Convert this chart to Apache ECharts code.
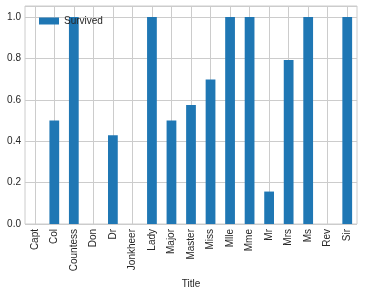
<!DOCTYPE html>
<html>
<head>
<meta charset="utf-8">
<script src="https://cdn.jsdelivr.net/npm/echarts@6/dist/echarts.min.js"></script>
<style>
  html, body { margin: 0; padding: 0; background: #fff; }
  #chart { width: 366px; height: 290px; }
</style>
</head>
<body>
<div id="chart"></div>
<script>
// survival rate by passenger title
const titles = ['Capt', 'Col', 'Countess', 'Don', 'Dr', 'Jonkheer', 'Lady', 'Major', 'Master',
  'Miss', 'Mlle', 'Mme', 'Mr', 'Mrs', 'Ms', 'Rev', 'Sir'];
const survived = [0, 0.5, 1, 0, 0.4286, 0, 1, 0.5, 0.575, 0.6978, 1, 1, 0.1567, 0.792, 1, 0, 1];
const yTicks = [0, 0.2, 0.4, 0.6, 0.8, 1.0];

const textColor = '#262626';
const gridColor = '#cccccc';
const font = 'Liberation Sans, Arial, sans-serif';

const chart = echarts.init(document.getElementById('chart'));

chart.setOption({
  animation: false,
  textStyle: { fontFamily: font },
  grid: {
    left: 25, right: 9, top: 6, bottom: 66,
    outerBoundsMode: 'none', containLabel: false,
    show: true, borderColor: gridColor, borderWidth: 1
  },
  legend: {
    left: 34, top: 11,
    icon: 'rect',
    itemWidth: 20, itemHeight: 7, itemGap: 8,
    textStyle: { color: textColor, fontSize: 10, fontFamily: font },
    data: ['Survived']
  },
  xAxis: {
    type: 'category',
    data: titles,
    name: 'Title',
    nameLocation: 'middle',
    nameGap: 51,
    nameTextStyle: { color: textColor, fontSize: 10, fontFamily: font },
    axisLine: { show: false },
    axisTick: { show: false },
    axisLabel: { rotate: 90, color: textColor, fontSize: 10, margin: 5, interval: 0 },
    splitLine: { show: true, alignWithLabel: true, lineStyle: { color: gridColor, width: 1 } }
  },
  yAxis: {
    type: 'value',
    min: 0,
    max: 1.053,
    interval: 0.2,
    axisLine: { show: false },
    axisTick: { show: false },
    axisLabel: {
      color: textColor, fontSize: 10, margin: 4,
      formatter: v => yTicks.some(t => Math.abs(t - v) < 1e-6) ? v.toFixed(1) : ''
    },
    splitLine: { show: true, lineStyle: { color: gridColor, width: 1 } }
  },
  series: [{
    name: 'Survived',
    type: 'bar',
    data: survived,
    barWidth: '50%',
    itemStyle: { color: '#1f77b4' }
  }]
});
</script>
</body>
</html>
